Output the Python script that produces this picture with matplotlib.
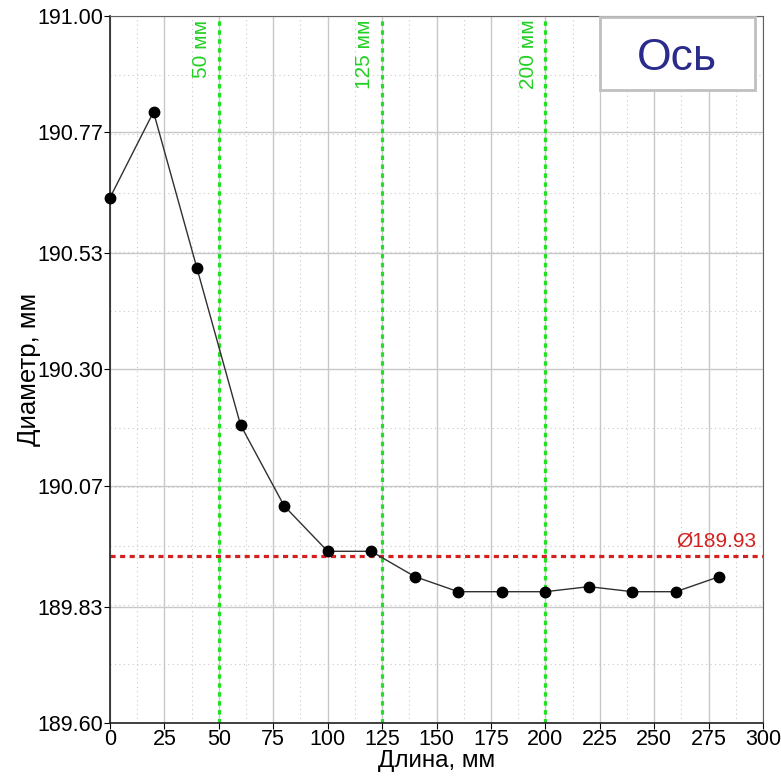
import matplotlib.pyplot as plt
from matplotlib.patches import Rectangle
from matplotlib.ticker import MultipleLocator, FixedLocator

plt.rcParams['font.family'] = ['Liberation Sans', 'DejaVu Sans']

# Данные измерений
length_mm = [0, 20, 40, 60, 80, 100, 120, 140, 160, 180, 200, 220, 240, 260, 280]
diameter_mm = [190.64, 190.81, 190.50, 190.19, 190.03, 189.94, 189.94, 189.89,
               189.86, 189.86, 189.86, 189.87, 189.86, 189.86, 189.89]
mean_diameter = 189.93
section_marks = [50, 125, 200]
y_ticks = [189.60, 189.83, 190.07, 190.30, 190.53, 190.77, 191.00]
legend_label = "Ось"

fig = plt.figure(figsize=(7.81, 7.76), dpi=100)
ax = fig.add_axes([0.1408, 0.0683, 0.8362, 0.9111])

ax.set_xlim(0, 300)
ax.set_ylim(189.60, 191.00)

# сетка
ax.xaxis.set_major_locator(MultipleLocator(25))
ax.xaxis.set_minor_locator(MultipleLocator(12.5))
ax.yaxis.set_major_locator(FixedLocator(y_ticks))
ax.yaxis.set_minor_locator(FixedLocator([189.60 + i * 1.4 / 12 for i in range(13)]))
ax.set_yticklabels([f"{v:.2f}" for v in y_ticks])
ax.grid(True, which='major', color='#c8c8c8', linewidth=1.0)
ax.grid(True, which='minor', color='#c8c8c8', linewidth=0.8, linestyle=(0, (1, 3)))
ax.set_axisbelow(True)

ax.tick_params(which='major', direction='out', length=4, labelsize=15.5, pad=1)
ax.tick_params(axis='x', pad=0)
ax.tick_params(which='minor', length=0)
for side in ['left', 'bottom']:
    ax.spines[side].set_color('#202020')
for side in ['top', 'right']:
    ax.spines[side].set_color('#606060')
ax.spines['left'].set_linewidth(1.2)
ax.spines['bottom'].set_linewidth(1.2)

# средний диаметр
ax.axhline(mean_diameter, color='#d42020', linewidth=2.3, linestyle=(0, (1.6, 1.4)), zorder=2)
ax.text(297, mean_diameter + 0.012, f"Ø{mean_diameter:.2f}", color='#d42020',
        fontsize=15, ha='right', va='bottom')

# отметки сечений
for m in section_marks:
    ax.axvline(m, color='#22e022', linewidth=2.3, linestyle=(0, (1.4, 1.4)), zorder=2)
    ax.text(m - 3.5, 190.993, f"{m} мм", color='#22d022', fontsize=15,
            rotation=90, ha='right', va='top')

ax.plot(length_mm, diameter_mm, color='#303030', linewidth=1.0, marker='o',
        markersize=7.5, markerfacecolor='black', markeredgecolor='black', zorder=4,
        clip_on=False)

ax.set_xlabel("Длина, мм", fontsize=17.5, labelpad=0)
ax.set_ylabel("Диаметр, мм", fontsize=18.5, labelpad=-3)

# легенда
fig.patches.append(Rectangle((600 / 781, 1 - 90 / 776), 155 / 781, 73 / 776,
                             transform=fig.transFigure, facecolor='white',
                             edgecolor='#c0c0c0', linewidth=2, zorder=5))
fig.text(677 / 781, 1 - 58 / 776, legend_label, color='#2b2b8c', fontsize=32,
         ha='center', va='center', zorder=6)

fig.savefig("out.png", dpi=100)
